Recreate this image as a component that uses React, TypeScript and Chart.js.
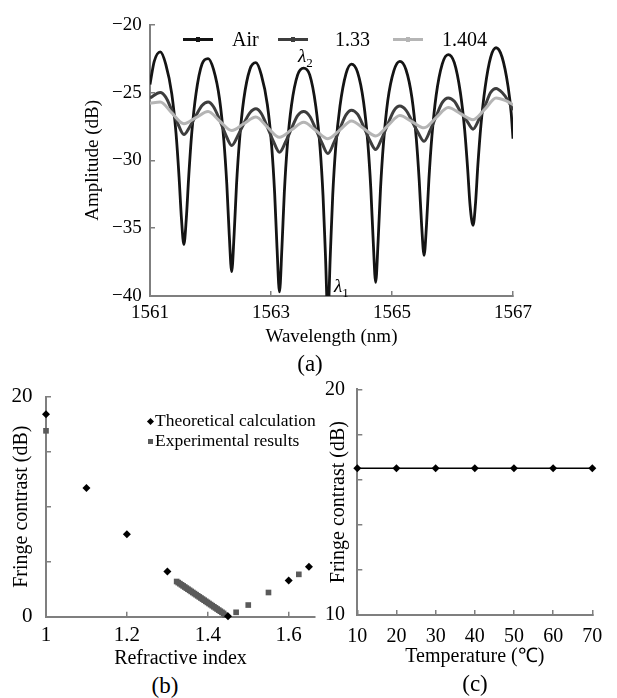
import React, { useEffect, useRef } from 'react';
import { Chart, registerables } from 'chart.js';

Chart.register(...registerables);

const FONT = "'Liberation Serif', 'Times New Roman', Times, serif";
const GRAY = '#7f7f7f';
Chart.defaults.font.family = FONT;
Chart.defaults.color = '#000';

// ---------- Panel (a): transmission spectra ----------
const airNm = [1561.00, 1561.07, 1561.17, 1561.26, 1561.36, 1561.43, 1561.48, 1561.52, 1561.56, 1561.60, 1561.64, 1561.69, 1561.76, 1561.86, 1561.96, 1562.05, 1562.15, 1562.22, 1562.27, 1562.31, 1562.35, 1562.39, 1562.43, 1562.48, 1562.55, 1562.65, 1562.75, 1562.84, 1562.94, 1563.01, 1563.06, 1563.10, 1563.14, 1563.18, 1563.22, 1563.27, 1563.34, 1563.44, 1563.54, 1563.64, 1563.74, 1563.81, 1563.86, 1563.90, 1563.94, 1563.98, 1564.02, 1564.07, 1564.14, 1564.24, 1564.33, 1564.43, 1564.53, 1564.60, 1564.65, 1564.69, 1564.73, 1564.77, 1564.81, 1564.86, 1564.93, 1565.03, 1565.13, 1565.23, 1565.33, 1565.40, 1565.45, 1565.49, 1565.53, 1565.57, 1565.61, 1565.66, 1565.73, 1565.83, 1565.93, 1566.03, 1566.13, 1566.20, 1566.25, 1566.29, 1566.34, 1566.38, 1566.42, 1566.47, 1566.54, 1566.63, 1566.72, 1566.82, 1566.92, 1566.97, 1567.00];
const airDb = [-24.4, -22.7, -22.0, -22.9, -25.1, -28.0, -31.2, -34.3, -36.2, -34.3, -31.2, -28.0, -25.1, -22.9, -22.5, -23.3, -25.5, -28.5, -31.8, -35.5, -38.2, -35.5, -31.8, -28.5, -25.5, -23.3, -22.8, -23.7, -25.9, -28.9, -32.4, -36.5, -39.7, -36.5, -32.4, -28.9, -25.9, -23.7, -23.2, -23.7, -26.0, -29.0, -32.6, -37.0, -41.5, -37.0, -32.6, -29.0, -26.0, -23.6, -22.9, -23.5, -25.7, -28.7, -32.1, -36.0, -39.0, -36.0, -32.1, -28.7, -25.6, -23.4, -22.7, -23.3, -25.4, -28.3, -31.5, -34.8, -37.0, -34.8, -31.4, -28.2, -25.2, -22.9, -22.2, -22.8, -25.0, -27.7, -30.6, -33.3, -34.8, -33.2, -30.3, -27.4, -24.6, -22.4, -21.7, -22.4, -24.6, -26.5, -28.4];

const n133Nm = [1561.00, 1561.17, 1561.26, 1561.36, 1561.46, 1561.56, 1561.66, 1561.76, 1561.86, 1561.96, 1562.05, 1562.15, 1562.25, 1562.35, 1562.45, 1562.55, 1562.65, 1562.75, 1562.84, 1562.94, 1563.04, 1563.14, 1563.24, 1563.34, 1563.44, 1563.54, 1563.64, 1563.74, 1563.84, 1563.94, 1564.04, 1564.14, 1564.24, 1564.33, 1564.43, 1564.53, 1564.63, 1564.73, 1564.83, 1564.93, 1565.03, 1565.13, 1565.23, 1565.33, 1565.43, 1565.53, 1565.63, 1565.73, 1565.83, 1565.93, 1566.03, 1566.13, 1566.24, 1566.34, 1566.44, 1566.54, 1566.63, 1566.72, 1566.82, 1566.92, 1567.00];
const n133Db = [-25.4, -25.0, -25.34, -26.3, -27.3, -28.1, -27.5, -26.7, -25.96, -25.7, -26.05, -27.0, -28.1, -28.9, -28.2, -27.3, -26.5, -26.2, -26.55, -27.55, -28.6, -29.4, -28.65, -27.65, -26.7, -26.4, -26.75, -27.7, -28.7, -29.5, -28.7, -27.65, -26.65, -26.3, -26.6, -27.5, -28.5, -29.2, -28.4, -27.35, -26.35, -26.0, -26.3, -27.1, -27.95, -28.6, -27.8, -26.75, -25.75, -25.4, -25.65, -26.4, -27.1, -27.7, -26.95, -25.95, -25.0, -24.7, -25.0, -25.6, -26.3];

const n1404Nm = [1561.00, 1561.17, 1561.36, 1561.56, 1561.76, 1561.96, 1562.15, 1562.35, 1562.55, 1562.75, 1562.94, 1563.14, 1563.34, 1563.54, 1563.74, 1563.94, 1564.14, 1564.33, 1564.53, 1564.73, 1564.93, 1565.13, 1565.33, 1565.53, 1565.73, 1565.93, 1566.13, 1566.34, 1566.54, 1566.72, 1566.88, 1567.00];
const n1404Db = [-25.8, -25.7, -26.5, -27.3, -26.85, -26.4, -27.1, -27.8, -27.3, -26.8, -27.55, -28.3, -27.75, -27.2, -27.8, -28.4, -27.75, -27.1, -27.65, -28.2, -27.45, -26.7, -27.15, -27.6, -26.85, -26.1, -26.55, -27.0, -26.2, -25.4, -25.6, -25.9];

const aXTicks = [1561, 1563, 1565, 1567];
const aYTicks = [-40, -35, -30, -25, -20];

// ---------- Panel (b): contrast vs refractive index ----------
const theoIndex = [1.0, 1.1, 1.2, 1.3, 1.45, 1.6, 1.65];
const theoContrast = [18.4, 11.7, 7.5, 4.1, 0.05, 3.3, 4.55];
const expIndex = [1.0, 1.323, 1.327, 1.331, 1.335, 1.339, 1.343, 1.347, 1.351, 1.355, 1.359, 1.363, 1.367, 1.371, 1.375, 1.379, 1.383, 1.387, 1.391, 1.395, 1.399, 1.403, 1.407, 1.411, 1.415, 1.419, 1.423, 1.427, 1.431, 1.435, 1.439, 1.443, 1.47, 1.5, 1.55, 1.625];
const expContrast = [16.9, 3.2, 3.1, 3.0, 2.9, 2.8, 2.7, 2.6, 2.5, 2.4, 2.3, 2.2, 2.1, 2.0, 1.9, 1.8, 1.7, 1.6, 1.5, 1.4, 1.3, 1.2, 1.1, 1.0, 0.9, 0.8, 0.7, 0.6, 0.5, 0.4, 0.3, 0.15, 0.4, 1.06, 2.2, 3.85];
const bXTicks = [1, 1.2, 1.4, 1.6];
const bYTicks = [0, 5, 10, 15, 20];
const bYLabels = [0, 20];

// ---------- Panel (c): contrast vs temperature ----------
const temps = [10, 20, 30, 40, 50, 60, 70];
const tempContrast = [16.5, 16.5, 16.5, 16.5, 16.5, 16.5, 16.5];
const cXTicks = [10, 20, 30, 40, 50, 60, 70];
const cYTicks = [10, 12, 14, 16, 18, 20];
const cYLabels = [10, 20];

const AIR_COLOR = '#141414';
const N133_COLOR = '#3d3d3d';
const N1404_COLOR = '#b5b5b5';
const EXP_COLOR = '#5a5a5a';

function pts(xs: number[], ys: number[]) {
  return xs.map((x, i) => ({ x, y: ys[i] }));
}

type AxisOpts = {
  min: number; max: number; ticks: number[]; labels?: number[];
  fmt?: (v: number) => string; size: number; pad: number;
  title: string; titleSize: number; titlePad: { top: number; bottom: number };
  fit: (s: any) => void;
};

function axis(o: AxisOpts) {
  return {
    type: 'linear',
    min: o.min,
    max: o.max,
    afterBuildTicks: (s: any) => { s.ticks = o.ticks.map((v) => ({ value: v })); },
    afterFit: o.fit,
    grid: { display: true, drawOnChartArea: false, drawTicks: true, tickLength: -5, color: GRAY, lineWidth: 1.5 },
    border: { display: true, color: GRAY, width: 2 },
    ticks: {
      autoSkip: false, maxRotation: 0, minRotation: 0, padding: o.pad, color: '#000',
      font: { family: FONT, size: o.size },
      callback: (v: number) => (!o.labels || o.labels.includes(v)) ? (o.fmt ? o.fmt(v) : String(v)) : '',
    },
    title: { display: true, text: o.title, color: '#000', font: { family: FONT, size: o.titleSize }, padding: o.titlePad },
  };
}

const minusFmt = (v: number) => (v < 0 ? '\u2212' + Math.abs(v) : String(v));

function configA(): any {
  return {
    type: 'line',
    data: {
      datasets: [
        { label: '1.404', data: pts(n1404Nm, n1404Db), borderColor: N1404_COLOR, borderWidth: 3, pointRadius: 0, cubicInterpolationMode: 'monotone', fill: false },
        { label: '1.33', data: pts(n133Nm, n133Db), borderColor: N133_COLOR, borderWidth: 3, pointRadius: 0, cubicInterpolationMode: 'monotone', fill: false },
        { label: 'Air', data: pts(airNm, airDb), borderColor: AIR_COLOR, borderWidth: 2.8, pointRadius: 0, cubicInterpolationMode: 'monotone', fill: false },
      ],
    },
    options: {
      responsive: false, animation: false, devicePixelRatio: 1,
      layout: { padding: { left: 0, top: 22.7, right: 104, bottom: 2 } },
      plugins: { legend: { display: false }, tooltip: { enabled: false } },
      scales: {
        x: axis({ min: 1561, max: 1567, ticks: aXTicks, size: 19, pad: 11, title: 'Wavelength (nm)', titleSize: 19, titlePad: { top: 0, bottom: 0 }, fit: (s) => { s.height = 52; } }),
        y: axis({ min: -40, max: -20, ticks: aYTicks, fmt: minusFmt, size: 19, pad: 13.3, title: 'Amplitude (dB)', titleSize: 19, titlePad: { top: 81.9, bottom: 0 }, fit: (s) => { s.width = 150; } }),
      },
    },
  };
}

function configB(): any {
  return {
    type: 'scatter',
    data: {
      datasets: [
        { label: 'Theoretical calculation', data: pts(theoIndex, theoContrast), pointStyle: 'rectRot', pointRadius: 4, backgroundColor: '#000', borderColor: '#000', borderWidth: 0, clip: false },
        { label: 'Experimental results', data: pts(expIndex, expContrast), pointStyle: 'rect', pointRadius: 4, backgroundColor: EXP_COLOR, borderColor: EXP_COLOR, borderWidth: 0, clip: false },
      ],
    },
    options: {
      responsive: false, animation: false, devicePixelRatio: 1,
      layout: { padding: { left: 0, top: 36.7, right: 10, bottom: 1.7 } },
      plugins: { legend: { display: false }, tooltip: { enabled: false } },
      scales: {
        x: axis({ min: 1, max: 1.665, ticks: bXTicks, size: 21, pad: 11.3, title: 'Refractive index', titleSize: 20, titlePad: { top: 0, bottom: 0 }, fit: (s) => { s.height = 53.6; } }),
        y: axis({ min: 0, max: 20, ticks: bYTicks, labels: bYLabels, size: 21, pad: 18.5, title: 'Fringe contrast (dB)', titleSize: 20, titlePad: { top: 9.7, bottom: 0 }, fit: (s) => { s.width = 46; } }),
      },
    },
  };
}

function configC(): any {
  return {
    type: 'line',
    data: {
      datasets: [
        { label: 'Fringe contrast', data: pts(temps, tempContrast), borderColor: '#000', borderWidth: 1.5, pointStyle: 'rectRot', pointRadius: 4, pointBackgroundColor: '#000', pointBorderColor: '#000', pointBorderWidth: 0, tension: 0, clip: false },
      ],
    },
    options: {
      responsive: false, animation: false, devicePixelRatio: 1,
      layout: { padding: { left: 0, top: 23.3, right: 13, bottom: 3.3 } },
      plugins: { legend: { display: false }, tooltip: { enabled: false } },
      scales: {
        x: axis({ min: 10, max: 70, ticks: cXTicks, size: 20, pad: 14.7, title: 'Temperature (\u2103)', titleSize: 20, titlePad: { top: 0, bottom: 0 }, fit: (s) => { s.height = 53.7; } }),
        y: axis({ min: 10, max: 20, ticks: cYTicks, labels: cYLabels, size: 20, pad: 17.3, title: 'Fringe contrast (dB)', titleSize: 20, titlePad: { top: 16.3, bottom: 0 }, fit: (s) => { s.width = 47.3; } }),
      },
    },
  };
}

function ChartCanvas(props: { left: number; top: number; width: number; height: number; make: () => any }) {
  const ref = useRef<HTMLCanvasElement>(null);
  useEffect(() => {
    const chart = new Chart(ref.current as HTMLCanvasElement, props.make());
    return () => chart.destroy();
  }, []);
  return (
    <canvas
      ref={ref}
      width={props.width}
      height={props.height}
      style={{ position: 'absolute', left: props.left, top: props.top, width: props.width, height: props.height }}
    />
  );
}

function Text(props: { x: number; y: number; size: number; center?: boolean; children: React.ReactNode }) {
  return (
    <div
      style={{
        position: 'absolute', left: props.x, top: props.y - props.size / 2, fontFamily: FONT, fontSize: props.size,
        lineHeight: props.size + 'px', color: '#000', whiteSpace: 'nowrap',
        transform: props.center ? 'translateX(-50%)' : undefined,
      }}
    >
      {props.children}
    </div>
  );
}

function LineKey(props: { x: number; y: number; color: string }) {
  return (
    <>
      <div style={{ position: 'absolute', left: props.x, top: props.y - 1.5, width: 30, height: 3, background: props.color }} />
      <div style={{ position: 'absolute', left: props.x + 13, top: props.y - 2.5, width: 4, height: 5, background: props.color }} />
    </>
  );
}

export default function App() {
  return (
    <div style={{ position: 'fixed', left: 0, top: 0, width: 617, height: 698, background: '#fff', overflow: 'hidden' }}>
      <ChartCanvas left={0} top={0} width={617} height={350} make={configA} />
      <ChartCanvas left={0} top={360} width={325} height={312} make={configB} />
      <ChartCanvas left={310} top={360} width={307} height={312} make={configC} />

      {/* legend (a) */}
      <LineKey x={183} y={39} color={AIR_COLOR} />
      <Text x={232} y={39} size={20}>Air</Text>
      <LineKey x={278} y={39} color={N133_COLOR} />
      <Text x={335} y={39} size={20}>1.33</Text>
      <LineKey x={393} y={39} color={N1404_COLOR} />
      <Text x={442} y={39} size={20}>1.404</Text>

      {/* wavelength markers */}
      <Text x={298} y={55} size={19}><i>λ</i><sub style={{ fontSize: 13 }}>2</sub></Text>
      <Text x={334} y={285} size={19}><i>λ</i><sub style={{ fontSize: 13 }}>1</sub></Text>

      {/* legend (b) */}
      <div style={{ position: 'absolute', left: 147.5, top: 418.5, width: 5, height: 5, background: '#000', transform: 'rotate(45deg)' }} />
      <Text x={155} y={421} size={17.5}>Theoretical calculation</Text>
      <div style={{ position: 'absolute', left: 147.5, top: 438.5, width: 5, height: 5, background: EXP_COLOR }} />
      <Text x={155} y={441} size={17.5}>Experimental results</Text>

      {/* captions */}
      <Text x={310} y={363} size={23} center>(a)</Text>
      <Text x={165} y={685} size={23} center>(b)</Text>
      <Text x={475} y={683} size={23} center>(c)</Text>
    </div>
  );
}
